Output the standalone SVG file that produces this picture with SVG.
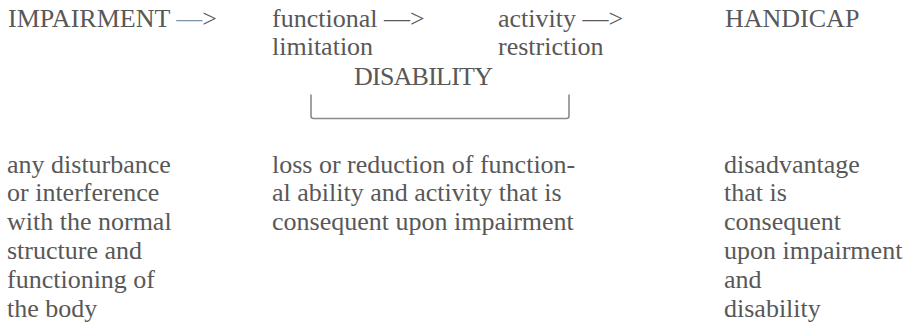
<svg xmlns="http://www.w3.org/2000/svg" width="910" height="324" viewBox="0 0 910 324">
<style>
text{font-family:'Liberation Serif','Times New Roman',Times,'DejaVu Serif',serif;font-size:26px;fill:#585858}
.blue{fill:#7d95ab}
.br{fill:none;stroke:#8a8a8a;stroke-width:1.6;stroke-linecap:round;stroke-linejoin:round}
</style>
<rect width="910" height="324" fill="#ffffff"/>
<g id="impairment">
<text x="8" y="27">IMPAIRMENT <tspan class="blue">—</tspan>&gt;</text>
</g>
<g id="functional-limitation">
<text x="272" y="27">functional —&gt;</text>
<text x="272" y="55">limitation</text>
</g>
<g id="activity-restriction">
<text x="498" y="27">activity —&gt;</text>
<text x="498" y="55">restriction</text>
</g>
<g id="handicap">
<text x="725" y="27">HANDICAP</text>
</g>
<g id="disability">
<text x="354" y="85" textLength="139">DISABILITY</text>
</g>
<g id="connectors">
<path class="br" d="M311,95 V116 Q311,118.5 313.5,118.5 H566.5 Q569,118.5 569,116 V95"/>
</g>
<g id="impairment-definition">
<text x="7" y="172.5">any disturbance</text>
<text x="7" y="201.3">or interference</text>
<text x="7" y="230.1">with the normal</text>
<text x="7" y="258.9">structure and</text>
<text x="7" y="287.7">functioning of</text>
<text x="7" y="316.5">the body</text>
</g>
<g id="disability-definition">
<text x="272" y="172.5">loss or reduction of function-</text>
<text x="272" y="201.3">al ability and activity that is</text>
<text x="272" y="230.1">consequent upon impairment</text>
</g>
<g id="handicap-definition">
<text x="724" y="172.5">disadvantage</text>
<text x="724" y="201.3">that is</text>
<text x="724" y="230.1">consequent</text>
<text x="724" y="258.9">upon impairment</text>
<text x="724" y="287.7">and</text>
<text x="724" y="316.5">disability</text>
</g>
</svg>
